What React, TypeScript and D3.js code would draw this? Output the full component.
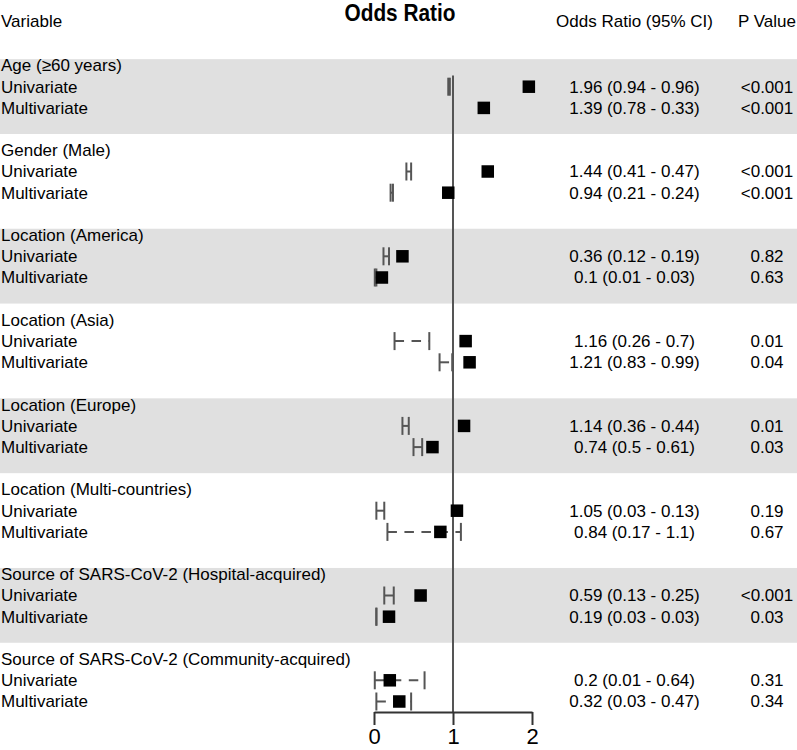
import React, { useEffect, useRef } from "react";
import * as d3 from "d3";

const groups = [
  "Age (≥60 years)",
  "Gender (Male)",
  "Location (America)",
  "Location (Asia)",
  "Location (Europe)",
  "Location (Multi-countries)",
  "Source of SARS-CoV-2 (Hospital-acquired)",
  "Source of SARS-CoV-2 (Community-acquired)",
];
const subRows = ["Univariate", "Multivariate"];

const uniOR = [1.96, 1.44, 0.36, 1.16, 1.14, 1.05, 0.59, 0.2];
const uniLo = [0.94, 0.41, 0.12, 0.26, 0.36, 0.03, 0.13, 0.01];
const uniHi = [0.96, 0.47, 0.19, 0.7, 0.44, 0.13, 0.25, 0.64];
const uniP = ["<0.001", "<0.001", "0.82", "0.01", "0.01", "0.19", "<0.001", "0.31"];

const multiOR = [1.39, 0.94, 0.1, 1.21, 0.74, 0.84, 0.19, 0.32];
const multiLo = [0.78, 0.21, 0.01, 0.83, 0.5, 0.17, 0.03, 0.03];
const multiHi = [0.33, 0.24, 0.03, 0.99, 0.61, 1.1, 0.03, 0.47];
const multiP = ["<0.001", "<0.001", "0.63", "0.04", "0.03", "0.67", "0.03", "0.34"];

const xTicks = [0, 1, 2];

const App = () => {
  const svgRef = useRef<SVGSVGElement>(null);

  useEffect(() => {
    const width = 797;
    const height = 750;
    const font = "'Liberation Sans', Arial, sans-serif";
    const fs = 17;

    const svg = d3.select(svgRef.current);
    svg.selectAll("*").remove();
    svg.attr("width", width).attr("height", height).style("font-family", font);

    // row index: group*4 + (0 header, 1 uni, 2 multi)
    const y = d3.scaleLinear().domain([0, 30]).range([65.5, 701.5]);
    const x = d3.scaleLinear().domain([0, 2]).range([374, 532]);

    const colCI = 634.5;
    const colP = 767;

    // alternating gray bands
    groups.forEach((g, i) => {
      if (i % 2 !== 0) return;
      svg.append("rect")
        .attr("x", 0)
        .attr("width", width)
        .attr("y", y(i * 4 - 0.3))
        .attr("height", y(i * 4 + 3.23) - y(i * 4 - 0.3))
        .attr("fill", "#e0e0e0");
    });

    // Headers
    svg.append("text")
      .attr("x", 400)
      .attr("y", 21)
      .attr("text-anchor", "middle")
      .attr("font-weight", "bold")
      .attr("font-size", 24)
      .attr("textLength", 111)
      .attr("lengthAdjust", "spacingAndGlyphs")
      .text("Odds Ratio");

    const headerY = 21;
    [["Variable", 1, "start"], ["Odds Ratio (95% CI)", colCI, "middle"], ["P Value", colP, "middle"]]
      .forEach(([t, px, anchor]) => {
        svg.append("text")
          .attr("x", px as number)
          .attr("y", headerY)
          .attr("dy", "0.35em")
          .attr("text-anchor", anchor as string)
          .attr("font-size", fs)
          .text(t as string);
      });

    const rows: { idx: number; or: number; lo: number; hi: number; p: string; label: string }[] = [];
    groups.forEach((g, i) => {
      rows.push({ idx: i * 4 + 1, or: uniOR[i], lo: uniLo[i], hi: uniHi[i], p: uniP[i], label: subRows[0] });
      rows.push({ idx: i * 4 + 2, or: multiOR[i], lo: multiLo[i], hi: multiHi[i], p: multiP[i], label: subRows[1] });
    });

    // left labels
    groups.forEach((g, i) => {
      svg.append("text")
        .attr("x", 1)
        .attr("y", y(i * 4))
        .attr("dy", "0.35em")
        .attr("font-size", fs)
        .text(g);
    });

    rows.forEach(r => {
      svg.append("text")
        .attr("x", 1)
        .attr("y", y(r.idx))
        .attr("dy", "0.35em")
        .attr("font-size", fs)
        .text(r.label);
      svg.append("text")
        .attr("x", colCI)
        .attr("y", y(r.idx))
        .attr("dy", "0.35em")
        .attr("text-anchor", "middle")
        .attr("font-size", fs)
        .text(`${r.or} (${r.lo} - ${r.hi})`);
      svg.append("text")
        .attr("x", colP)
        .attr("y", y(r.idx))
        .attr("dy", "0.35em")
        .attr("text-anchor", "middle")
        .attr("font-size", fs)
        .text(r.p);
    });

    // reference line at OR = 1
    const axisY = 712;
    svg.append("line")
      .attr("x1", x(1))
      .attr("x2", x(1))
      .attr("y1", y(0.47))
      .attr("y2", axisY)
      .attr("stroke", "#555")
      .attr("stroke-width", 2);

    // confidence intervals (skipped when lower > upper)
    const ciColor = "#555";
    rows.filter(r => r.lo <= r.hi).forEach(r => {
      const cy = y(r.idx);
      svg.append("line")
        .attr("x1", x(r.lo))
        .attr("x2", x(r.hi))
        .attr("y1", cy)
        .attr("y2", cy)
        .attr("stroke", ciColor)
        .attr("stroke-width", 2)
        .attr("stroke-dasharray", "9.5,7.5");
      [r.lo, r.hi].forEach(v => {
        svg.append("line")
          .attr("x1", x(v))
          .attr("x2", x(v))
          .attr("y1", cy - 9)
          .attr("y2", cy + 9)
          .attr("stroke", ciColor)
          .attr("stroke-width", 2);
      });
    });

    // point estimates
    const sq = 12.5;
    svg.selectAll("rect.pt")
      .data(rows)
      .enter()
      .append("rect")
      .attr("class", "pt")
      .attr("x", d => x(d.or) - sq / 2)
      .attr("y", d => y(d.idx) - sq / 2)
      .attr("width", sq)
      .attr("height", sq)
      .attr("fill", "#000");

    // x axis
    const axis = svg.append("g")
      .attr("transform", `translate(0,${axisY})`)
      .call(d3.axisBottom(x).tickValues(xTicks).tickFormat(d3.format("d")).tickSize(13).tickSizeOuter(0).tickPadding(3));
    axis.selectAll("path, line").attr("stroke", "#333").attr("stroke-width", 2);
    axis.selectAll("text")
      .attr("font-size", 22)
      .attr("font-family", font)
      .attr("fill", "#000");
  }, []);

  return (
    <div style={{ position: "absolute", left: 0, top: 0 }}>
      <svg ref={svgRef} style={{ display: "block" }}></svg>
    </div>
  );
};

export default App;
